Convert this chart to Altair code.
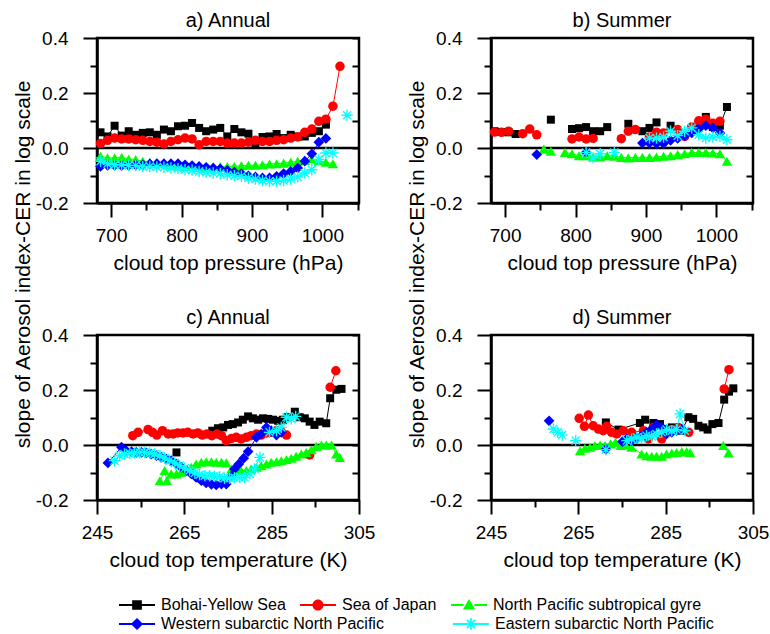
import altair as alt
import pandas as pd

FONT = "Liberation Sans"

SERIES = ["Bohai-Yellow Sea", "Sea of Japan", "North Pacific subtropical gyre",
          "Western subarctic North Pacific", "Eastern subarctic North Pacific"]
COLORS = ["#000000", "#ff0000", "#00ff00", "#0000ff", "#00ffff"]

# ---------------- a) Annual : cloud top pressure (hPa) ----------------
A_BOHAI_X = list(range(685, 1006, 10))
A_BOHAI_Y = [0.057, 0.042, 0.081, 0.045, 0.061, 0.048, 0.055, 0.057, 0.048, 0.067,
             0.061, 0.079, 0.081, 0.091, 0.073, 0.061, 0.067, 0.073, 0.042, 0.069,
             0.057, 0.052, 0.015, 0.040, 0.042, 0.051, 0.036, 0.048, 0.042, 0.042,
             0.055, 0.061, 0.085]
A_SOJ_X = list(range(685, 1026, 10))
A_SOJ_Y = [0.016, 0.028, 0.036, 0.033, 0.033, 0.030, 0.028, 0.024, 0.021, 0.015,
           0.024, 0.030, 0.036, 0.033, 0.012, 0.024, 0.024, 0.024, 0.018, 0.018,
           0.018, 0.021, 0.028, 0.024, 0.024, 0.028, 0.030, 0.036, 0.040, 0.057,
           0.069, 0.097, 0.105, 0.152, 0.297]
A_NP_X = list(range(685, 1016, 10))
A_NP_Y = [-0.030, -0.036, -0.036, -0.034, -0.040, -0.042, -0.048, -0.052, -0.055, -0.057,
          -0.061, -0.064, -0.067, -0.067, -0.067, -0.069, -0.067, -0.067, -0.067, -0.067,
          -0.064, -0.063, -0.063, -0.061, -0.058, -0.057, -0.055, -0.052, -0.048, -0.045,
          -0.040, -0.045, -0.052, -0.057]
A_WEST_X = list(range(685, 1006, 10))
A_WEST_Y = [-0.067, -0.063, -0.063, -0.064, -0.063, -0.061, -0.061, -0.058, -0.057, -0.057,
            -0.057, -0.057, -0.061, -0.064, -0.067, -0.070, -0.073, -0.076, -0.081, -0.088,
            -0.093, -0.101, -0.105, -0.109, -0.109, -0.103, -0.093, -0.085, -0.073, -0.048,
            -0.021, 0.021, 0.035]
A_EAST_X = list(range(685, 1016, 10)) + [None, 1035]
A_EAST_Y = [-0.048, -0.057, -0.061, -0.061, -0.063, -0.064, -0.067, -0.067, -0.069, -0.070,
            -0.073, -0.075, -0.079, -0.081, -0.085, -0.088, -0.091, -0.093, -0.097, -0.101,
            -0.103, -0.109, -0.113, -0.118, -0.121, -0.121, -0.118, -0.113, -0.105, -0.091,
            -0.079, -0.042, -0.018, -0.018, None, 0.119]

# ---------------- b) Summer : cloud top pressure (hPa) ----------------
B_BOHAI_X = [685, 695, 705, 715, None, 765, None, 795, 805, 815, 825, 835, 845, None, 875,
             None, 895, 905, 915, None, 935, None, 965, 975, 985, 995, 1005, 1015]
B_BOHAI_Y = [0.061, 0.058, 0.057, 0.051, None, 0.103, None, 0.069, 0.072, 0.076, 0.061, 0.061,
             0.076, None, 0.088, None, 0.061, 0.073, 0.093, None, 0.081, None, 0.073, 0.085,
             0.113, 0.076, 0.081, 0.149]
B_SOJ_X = [685, 695, 705, None, 725, 735, 745, None, 795, 805, 815, 825, None, 865, 875, 885,
           None, 905, 915, 925, None, 945, 955, 965, 975, 985, 995, 1005]
B_SOJ_Y = [0.058, 0.057, 0.061, None, 0.052, 0.069, 0.048, None, 0.033, 0.040, 0.033, 0.035,
           None, 0.034, 0.061, 0.067, None, 0.040, 0.057, 0.055, None, 0.067, 0.042, 0.076,
           0.099, 0.105, 0.090, 0.097]
B_NP_X = [755, 765, None] + list(range(785, 1016, 10))
B_NP_Y = [-0.004, -0.012, None, -0.016, -0.021, -0.028, -0.028, -0.033, -0.033, -0.028,
          -0.030, -0.034, -0.036, -0.034, -0.034, -0.034, -0.033, -0.030, -0.028, -0.024,
          -0.021, -0.016, -0.016, -0.016, -0.018, -0.021, -0.048]
B_WEST_X = [745, None, 815, None, 895, 905, 915, 925, 935, 945, 955, 965, 975, 985, 995, 1005]
B_WEST_Y = [-0.024, None, -0.016, None, 0.018, 0.018, 0.016, 0.016, 0.028, 0.035, 0.045,
            0.055, 0.069, 0.081, 0.073, 0.055]
B_EAST_X = [815, 825, 835, None, 855, None, 905, 915, 925, 935, 945, 955, 965, 975, 985,
            995, 1005, 1015]
B_EAST_Y = [-0.016, -0.036, -0.021, None, -0.016, None, 0.036, 0.036, 0.040, 0.061, 0.045,
            0.061, 0.073, 0.048, 0.036, 0.040, 0.042, 0.030]

# ---------------- c) Annual : cloud top temperature (K) ----------------
C_BOHAI_X = [263.2, None, 271.4, 272.7, 273.9, 275.0, 276.1, 277.3, 278.4, 279.6, 280.7,
             281.9, 283.0, 284.2, 285.3, 286.5, 287.6, 288.7, 290.3, 291.4, 292.6, 293.7,
             294.8, 296.0, 297.5, 298.4, 299.8, 301.0]
C_BOHAI_Y = [-0.027, None, 0.052, 0.061, 0.064, 0.073, 0.076, 0.082, 0.092, 0.104, 0.097,
             0.092, 0.097, 0.095, 0.092, 0.088, 0.092, 0.101, 0.121, 0.101, 0.097, 0.085,
             0.073, 0.085, 0.079, 0.170, 0.201, 0.204]
C_SOJ_X = [253.2, 254.4, 256.7, 257.7, 258.7, 260.0, 261.3, 262.4, 263.5, 264.7, 265.8,
           267.0, 268.1, 269.1, 270.2, 271.3, 272.5, 273.5, 274.6, 275.8, 276.9, 278.0,
           279.2, 280.3, 281.5, 282.6, 283.8, 284.9, 286.1, 287.2, 288.4, None, 293.7,
           None, 298.4, 299.7]
C_SOJ_Y = [0.034, 0.046, 0.056, 0.046, 0.036, 0.052, 0.040, 0.040, 0.044, 0.044, 0.046,
           0.040, 0.044, 0.036, 0.040, 0.034, 0.040, 0.034, 0.016, 0.024, 0.028, 0.022,
           0.028, 0.034, 0.040, 0.036, 0.044, 0.046, 0.052, 0.048, 0.036, None, -0.036,
           None, 0.210, 0.270]
C_NP_X = [259.4, 260.5, 261.0, 262.0, 263.2, 264.3, 265.5, 266.6, 267.7, 268.9, 270.0,
          271.2, 272.3, 273.5, 274.6, 275.8, 276.9, 278.0, 279.2, 280.3, 281.5, 282.6,
          283.8, 284.9, 286.1, 287.2, 288.4, 289.5, 290.6, 291.8, 292.9, 294.1, 295.2,
          296.4, 297.5, 298.7, 299.8, 300.6]
C_NP_Y = [-0.130, -0.093, -0.130, -0.105, -0.105, -0.099, -0.093, -0.081, -0.069, -0.063,
          -0.061, -0.061, -0.063, -0.063, -0.065, -0.087, -0.093, -0.093, -0.093, -0.087,
          -0.081, -0.075, -0.069, -0.063, -0.061, -0.057, -0.053, -0.048, -0.041, -0.033,
          -0.027, -0.017, -0.005, 0.000, 0.000, 0.000, -0.033, -0.045]
C_WEST_X = [247.5, 250.6, 251.7, 252.9, 254.0, 255.2, 256.3, 257.4, 258.6, 259.7, 260.9,
            262.0, 263.2, 264.3, 265.5, 266.6, 267.7, 268.9, 270.0, 271.2, 272.3, 273.5,
            274.6, 275.8, 276.5, 277.5, 278.6, 279.6, 281.5, 282.6, 283.8, 284.9, 286.1,
            287.2]
C_WEST_Y = [-0.065, -0.008, -0.021, -0.024, -0.027, -0.027, -0.029, -0.033, -0.039, -0.045,
            -0.051, -0.057, -0.069, -0.081, -0.093, -0.105, -0.118, -0.130, -0.138, -0.143,
            -0.145, -0.142, -0.142, -0.112, -0.087, -0.069, -0.048, -0.024, 0.028, 0.040,
            0.064, 0.052, 0.036, 0.046]
C_EAST_X = [249.0, 250.2, 251.3, 252.5, 253.6, 254.8, 255.9, 257.1, 258.2, 259.4, 260.5,
            261.6, 262.8, 263.9, 265.1, 266.2, 267.4, 268.5, 269.7, 270.8, 271.9, 273.1,
            274.2, 275.4, 276.5, 277.7, 278.8, 280.0, 281.1, 282.3, None, 284.5, 286.1,
            287.2, 288.4, 289.5, 290.5]
C_EAST_Y = [-0.057, -0.039, -0.033, -0.030, -0.029, -0.027, -0.027, -0.029, -0.033, -0.039,
            -0.047, -0.056, -0.065, -0.075, -0.084, -0.093, -0.102, -0.108, -0.112, -0.112,
            -0.114, -0.115, -0.121, -0.121, -0.119, -0.118, -0.118, -0.105, -0.087, -0.045,
            None, 0.046, 0.052, 0.064, 0.101, 0.095, 0.104]

# ---------------- d) Summer : cloud top temperature (K) ----------------
D_BOHAI_X = [271.3, 274.2, 279.1, 280.3, 282.2, 283.7, 286.4, 288.7, 290.2, 291.3, 292.5,
             293.6, 294.6, 295.7, 297.1, 298.4, 299.5, 300.5]
D_BOHAI_Y = [0.082, 0.056, 0.080, 0.092, 0.080, 0.076, 0.064, 0.052, 0.101, 0.095, 0.070,
             0.064, 0.056, 0.076, 0.080, 0.165, 0.194, 0.206]
D_SOJ_X = [265.2, 266.4, 267.3, 268.4, 269.6, 270.7, 271.5, 272.6, 273.8, 275.3, 277.2,
           279.9, 281.0, 282.2, 284.1, 286.0, 287.9, 290.3, None, 298.4, 299.5]
D_SOJ_Y = [0.097, 0.068, 0.109, 0.070, 0.058, 0.052, 0.068, 0.046, 0.040, 0.052, 0.046,
           0.052, 0.022, 0.064, 0.022, 0.052, 0.064, 0.046, None, 0.204, 0.274]
D_NP_X = [265.4, 266.5, 267.7, 268.8, 270.0, 271.1, 272.4, 273.5, 274.7, 275.8, 277.2,
          279.5, 280.6, 281.8, 282.9, 284.1, 285.2, 286.4, 287.5, 288.7, 289.8, 290.6,
          None, 298.2, 299.4]
D_NP_Y = [-0.021, -0.012, -0.008, -0.002, 0.000, -0.002, 0.004, 0.010, -0.002, 0.000,
          -0.008, -0.033, -0.039, -0.041, -0.041, -0.041, -0.033, -0.029, -0.027, -0.024,
          -0.024, -0.027, None, -0.002, -0.029]
D_WEST_X = [258.3, None, 271.3, None, 275.1, 276.1, 277.2, 278.4, 279.5, 280.6, 281.8,
            282.9, 284.1, 285.2, 286.4, 287.5, 288.7]
D_WEST_Y = [0.088, None, -0.015, None, 0.012, 0.022, 0.016, 0.024, 0.034, 0.046, 0.058,
            0.073, 0.064, 0.040, 0.046, 0.052, 0.058]
D_EAST_X = [259.3, 260.3, 261.3, None, 264.4, None, 271.3, None, 276.1, 277.2, 278.4,
            279.5, 280.6, 281.8, 282.9, 284.1, 285.2, 286.4, 287.5, 288.3, 289.4]
D_EAST_Y = [0.058, 0.046, 0.036, None, 0.016, None, -0.017, None, 0.016, 0.022, 0.028,
            0.024, 0.034, 0.031, 0.040, 0.046, 0.056, 0.052, 0.056, 0.113, 0.052]

# axis ticks / labels
Y_TICKS = [-0.2, -0.1, 0.0, 0.1, 0.2, 0.3, 0.4]
P_TICKS = [700, 750, 800, 850, 900, 950, 1000, 1050]
T_TICKS = [245, 255, 265, 275, 285, 295, 305]
P_DOMAIN = [680, 1052]
T_DOMAIN = [245, 305]
Y_DOMAIN = [-0.2, 0.4]

# ---------------- marker shapes ----------------
ASTER = ("M-0.12,-1H0.12V1H-0.12Z M-1,-0.12H1V0.12H-1Z "
         "M-0.622,-0.792L0.792,0.622L0.622,0.792L-0.792,-0.622Z "
         "M-0.792,0.622L0.622,-0.792L0.792,-0.622L-0.622,0.792Z")
PLOT_SHAPES = ["square", "circle", "triangle-up", "diamond", ASTER]
PLOT_SIZES = [64, 90, 110, 115, 130]


def bars(m):
    return f"M-1,-0.05H-{m}V0.05H-1Z M{m},-0.05H1V0.05H{m}Z "


LEG_SHAPES = [
    bars(0.25) + "M-0.27,-0.27H0.27V0.27H-0.27Z",
    bars(0.28) + "M-0.31,0A0.31,0.31 0 1,1 0.31,0A0.31,0.31 0 1,1 -0.31,0Z",
    bars(0.3) + "M0,-0.34L0.34,0.25L-0.34,0.25Z",
    bars(0.3) + "M0,-0.34L0.34,0L0,0.34L-0.34,0Z",
    "M-1,-0.05H1V0.05H-1Z M-0.05,-0.32H0.05V0.32H-0.05Z "
    "M-0.19,-0.26L0.26,0.19L0.19,0.26L-0.26,-0.19Z "
    "M-0.26,0.19L0.19,-0.26L0.26,-0.19L-0.19,0.26Z",
]


def make_df(pairs):
    rows = []
    for idx, (xs, ys) in enumerate(pairs):
        seg = 0
        for x, y in zip(xs, ys):
            if x is None or y is None:
                seg += 1
                continue
            rows.append({"series": SERIES[idx], "x": x, "y": y, "seg": seg})
    return pd.DataFrame(rows)


DF_A = make_df([(A_BOHAI_X, A_BOHAI_Y), (A_SOJ_X, A_SOJ_Y), (A_NP_X, A_NP_Y),
                (A_WEST_X, A_WEST_Y), (A_EAST_X, A_EAST_Y)])
DF_B = make_df([(B_BOHAI_X, B_BOHAI_Y), (B_SOJ_X, B_SOJ_Y), (B_NP_X, B_NP_Y),
                (B_WEST_X, B_WEST_Y), (B_EAST_X, B_EAST_Y)])
DF_C = make_df([(C_BOHAI_X, C_BOHAI_Y), (C_SOJ_X, C_SOJ_Y), (C_NP_X, C_NP_Y),
                (C_WEST_X, C_WEST_Y), (C_EAST_X, C_EAST_Y)])
DF_D = make_df([(D_BOHAI_X, D_BOHAI_Y), (D_SOJ_X, D_SOJ_Y), (D_NP_X, D_NP_Y),
                (D_WEST_X, D_WEST_Y), (D_EAST_X, D_EAST_Y)])
REF = pd.DataFrame({"ref": [0.0]})
LEG_DF = pd.DataFrame({"series": SERIES[:3], "west": [SERIES[3]] * 3, "east": [SERIES[4]] * 3})

Y_MAJOR = "abs(round(datum.value * 10)) % 2 == 0"
P_MAJOR = "datum.value % 100 == 0 && datum.value < 1050"
T_MAJOR = "(datum.value - 245) % 20 == 0"
YTITLE = "slope of Aerosol index-CER in log scale"


def tick_cond(test):
    return {"condition": {"test": test, "value": 14}, "value": 7}


def left_axis(with_title):
    kw = dict(orient="left", values=Y_TICKS,
              labelExpr=f"({Y_MAJOR}) ? replace(format(datum.value, '.1f'), '\u2212', '-') : ''",
              tickSize=tick_cond(Y_MAJOR), labelPadding=15, labelOverlap=False,
              labelFlush=False, grid=False)
    if with_title:
        kw.update(titleX=-64, titleY=226, titleAngle=270, titleAlign="center",
                  titleBaseline="bottom", titleFontSize=21)
    return alt.Axis(**kw)


def bottom_axis(ticks, major):
    return alt.Axis(orient="bottom", values=ticks,
                    labelExpr=f"({major}) ? format(datum.value, 'd') : ''",
                    tickSize=tick_cond(major), labelPadding=9, titlePadding=7,
                    titleFontSize=21, labelOverlap=False, labelFlush=False, grid=False)


RIGHT_AXIS = alt.Axis(orient="right", values=Y_TICKS, labels=False, tickSize=7,
                      domain=False, offset=-7, grid=False)

LEG_COMMON = dict(title=None, orient="none", direction="horizontal", columnPadding=14,
                  labelFont=FONT, labelFontSize=16, labelColor="black", labelLimit=500,
                  labelOffset=6, symbolSize=1296, symbolStrokeWidth=0, symbolOpacity=1)


def legend_layers():
    leg_row1 = alt.Legend(legendX=22, legendY=549, **LEG_COMMON)
    leg_west = alt.Legend(legendX=22, legendY=568, symbolType=LEG_SHAPES[3],
                          symbolFillColor=COLORS[3], **LEG_COMMON)
    leg_east = alt.Legend(legendX=356, legendY=568, symbolType=LEG_SHAPES[4],
                          symbolFillColor=COLORS[4], **LEG_COMMON)
    empty = alt.Chart(LEG_DF).transform_filter("false")
    row1 = empty.mark_point(filled=True, opacity=1).encode(
        color=alt.Color("series:N", scale=alt.Scale(domain=SERIES[:3], range=COLORS[:3]), legend=leg_row1),
        shape=alt.Shape("series:N", scale=alt.Scale(domain=SERIES[:3], range=LEG_SHAPES[:3]), legend=leg_row1))
    west = empty.mark_point(filled=True, opacity=1, color=COLORS[3]).encode(
        fill=alt.Fill("west:N", scale=alt.Scale(domain=[SERIES[3]], range=[COLORS[3]]), legend=leg_west))
    east = empty.mark_point(filled=True, opacity=1, color=COLORS[4]).encode(
        stroke=alt.Stroke("east:N", scale=alt.Scale(domain=[SERIES[4]], range=[COLORS[4]]), legend=leg_east))
    return [row1, west, east]


def panel(df, title, xdom, xticks, xmajor, xtitle, with_ytitle, with_legend):
    X = alt.X("x:Q", scale=alt.Scale(domain=xdom, nice=False, zero=False),
              axis=bottom_axis(xticks, xmajor), title=xtitle)
    Y = alt.Y("y:Q", scale=alt.Scale(domain=Y_DOMAIN, nice=False, zero=False),
              axis=left_axis(with_ytitle), title=YTITLE if with_ytitle else None)
    layers = []
    for i, name in enumerate(SERIES):
        sub = alt.Chart(df).transform_filter(alt.datum.series == name)
        layers.append(sub.mark_line(color=COLORS[i], strokeWidth=1).encode(
            x=X, y=Y, detail="seg:N"))
        layers.append(sub.mark_point(filled=True, opacity=1, color=COLORS[i],
                                     shape=PLOT_SHAPES[i], size=PLOT_SIZES[i]).encode(x=X, y=Y))
    if with_legend:
        layers += legend_layers()
    data_layer = alt.layer(*layers)
    zero = alt.Chart(REF).mark_rule(color="black", strokeWidth=2.5).encode(
        y=alt.Y("ref:Q", scale=alt.Scale(domain=Y_DOMAIN, nice=False, zero=False),
                axis=RIGHT_AXIS, title=None))
    return alt.layer(zero, data_layer).resolve_scale(y="independent").properties(
        width=262, height=165,
        title=alt.TitleParams(title, font=FONT, fontSize=20, fontWeight="normal",
                              color="black", anchor="middle", frame="group",
                              baseline="alphabetic", offset=2, dy=20))


pa = panel(DF_A, "a) Annual", P_DOMAIN, P_TICKS, P_MAJOR, "cloud top pressure (hPa)", True, True)
pb = panel(DF_B, "b) Summer", P_DOMAIN, P_TICKS, P_MAJOR, "cloud top pressure (hPa)", True, False)
pc = panel(DF_C, "c) Annual", T_DOMAIN, T_TICKS, T_MAJOR, "cloud top temperature (K)", False, False)
pd_ = panel(DF_D, "d) Summer", T_DOMAIN, T_TICKS, T_MAJOR, "cloud top temperature (K)", False, False)

chart = alt.concat(pa, pb, pc, pd_, columns=2, spacing={"row": 132, "column": 132},
                   bounds="flush").properties(
    padding={"left": 97, "top": 38, "right": 673, "bottom": 596},
    autosize=alt.AutoSizeParams(type="none"),
).configure_view(stroke="black", strokeWidth=2.5).configure_axis(
    domainColor="black", domainWidth=2.5, tickColor="black", tickWidth=2,
    labelFont=FONT, labelFontSize=19, labelColor="black",
    titleFont=FONT, titleFontSize=20, titleFontWeight="normal", titleColor="black",
)

chart.save("out.html", embed_options={"renderer": "svg", "actions": False})
